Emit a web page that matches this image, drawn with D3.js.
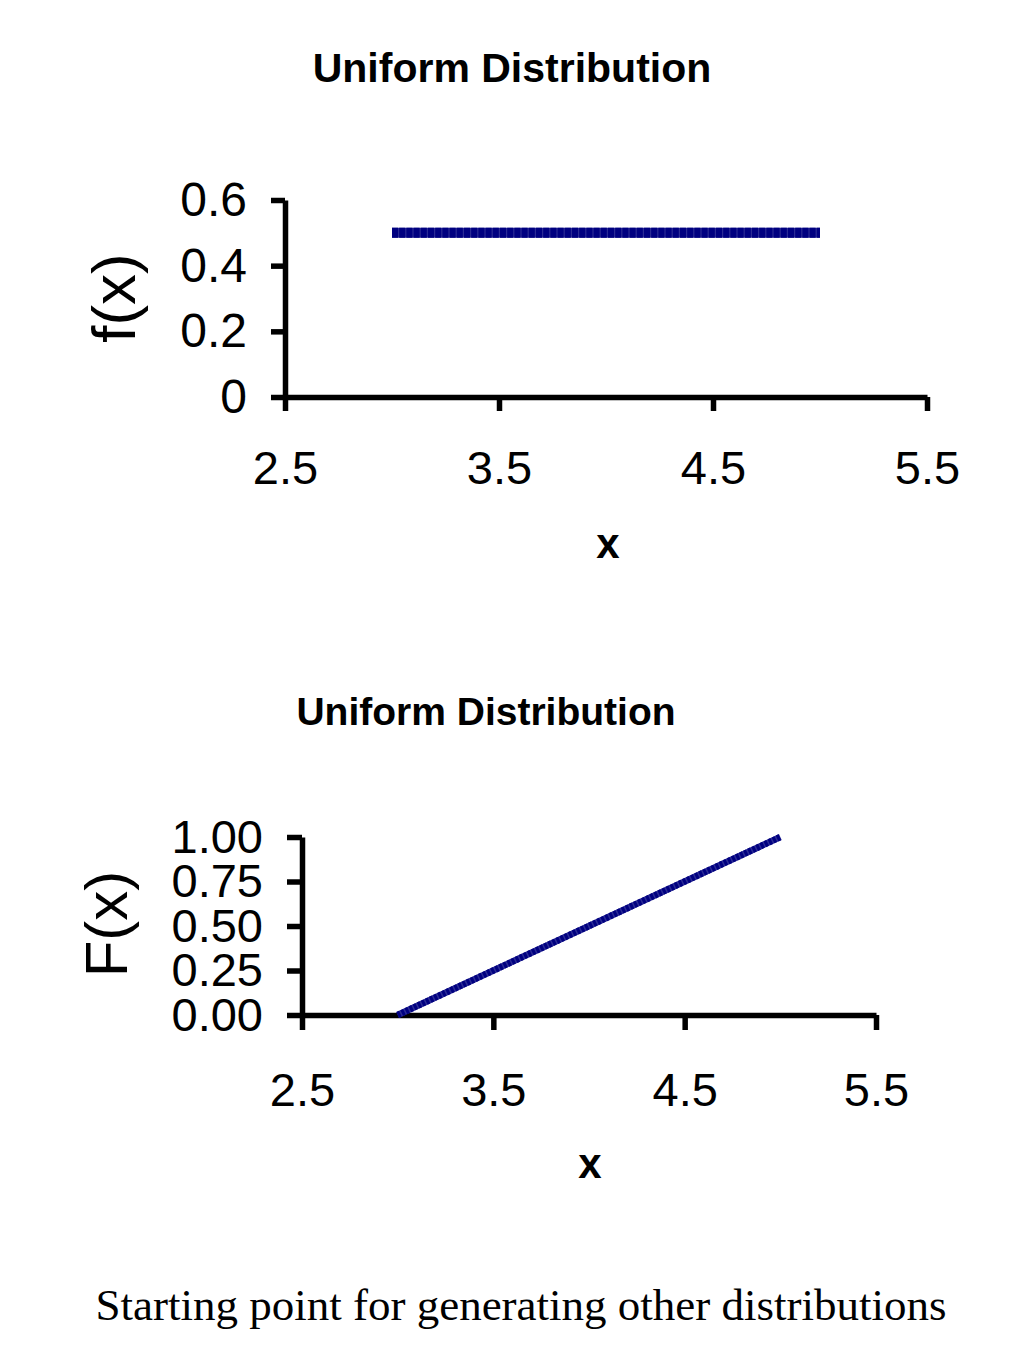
<!DOCTYPE html>
<html>
<head>
<meta charset="utf-8">
<script src="https://cdn.jsdelivr.net/npm/d3@7"></script>
<style>
  body { margin: 0; background: #fff; }
  svg { display: block; }
</style>
</head>
<body>
<div id="chart"></div>
<script>
// values
const xTicks = [2.5, 3.5, 4.5, 5.5];
const xTickLabels = ["2.5", "3.5", "4.5", "5.5"];

const pdfX = [3, 3.5, 4, 4.5, 5];
const pdfY = [0.5, 0.5, 0.5, 0.5, 0.5];
const pdfYTicks = [0, 0.2, 0.4, 0.6];
const pdfYTickLabels = ["0", "0.2", "0.4", "0.6"];

const cdfX = [3, 3.5, 4, 4.5, 5];
const cdfY = [0, 0.25, 0.5, 0.75, 1];
const cdfYTicks = [0, 0.25, 0.5, 0.75, 1];
const cdfYTickLabels = ["0.00", "0.25", "0.50", "0.75", "1.00"];

const svg = d3.select("#chart")
  .append("svg")
  .attr("width", 1024)
  .attr("height", 1365);

const sans = "'Liberation Sans', Arial, sans-serif";

function drawPanel(opt) {
  const x = d3.scaleLinear().domain([2.5, 5.5]).range([opt.left, opt.right]);
  const y = d3.scaleLinear().domain(opt.yDomain).range([opt.bottom, opt.top]);

  // title
  svg.append("text")
    .attr("x", opt.titleX)
    .attr("y", opt.titleY)
    .attr("text-anchor", "middle")
    .style("font-family", sans)
    .style("font-weight", "bold")
    .style("font-size", opt.titleSize + "px")
    .text("Uniform Distribution");

  const xAxis = svg.append("g")
    .attr("transform", `translate(0,${opt.bottom})`)
    .call(d3.axisBottom(x)
      .tickValues(xTicks)
      .tickFormat((d, i) => xTickLabels[i])
      .tickSize(opt.tick)
      .tickSizeOuter(0)
      .tickPadding(opt.xPad));

  const yAxis = svg.append("g")
    .attr("transform", `translate(${opt.left},0)`)
    .call(d3.axisLeft(y)
      .tickValues(opt.yTicks)
      .tickFormat((d, i) => opt.yLabels[i])
      .tickSize(opt.tick)
      .tickSizeOuter(0)
      .tickPadding(opt.yPad));

  [xAxis, yAxis].forEach(g => {
    g.selectAll("path, line")
      .attr("stroke", "#000")
      .attr("stroke-width", 5.5);
    g.selectAll("text")
      .attr("fill", "#000")
      .style("font-family", sans)
      .style("font-size", "47px");
  });
  yAxis.selectAll("text").style("font-size", opt.yTickSize + "px");

  // series line
  const line = d3.line()
    .x(d => x(d[0]))
    .y(d => y(d[1]));

  const pts = opt.xs.map((v, i) => [v, opt.ys[i]]);

  svg.append("path")
    .datum(pts)
    .attr("fill", "none")
    .attr("stroke", "#2b2b95")
    .attr("stroke-width", opt.lineW)
    .attr("d", line);

  svg.append("path")
    .datum(pts)
    .attr("fill", "none")
    .attr("stroke", "#000080")
    .attr("stroke-width", opt.lineW)
    .attr("stroke-dasharray", opt.dash)
    .attr("d", line);

  // axis titles
  svg.append("text")
    .attr("x", opt.xLabelX)
    .attr("y", opt.xLabelY)
    .attr("text-anchor", "middle")
    .style("font-family", sans)
    .style("font-weight", "bold")
    .style("font-size", "42px")
    .text("x");

  svg.append("text")
    .attr("transform", `translate(${opt.yLabelX},${opt.yLabelY}) rotate(-90)`)
    .attr("text-anchor", "middle")
    .style("font-family", sans)
    .style("font-size", opt.yLabelSize + "px")
    .text(opt.yLabel);
}

drawPanel({
  left: 285, right: 927, top: 200, bottom: 397,
  yDomain: [0, 0.6], yTicks: pdfYTicks, yLabels: pdfYTickLabels,
  xs: pdfX, ys: pdfY,
  tick: 14, xPad: 40, yPad: 24, yTickSize: 48,
  lineW: 10, dash: "6 1.2",
  titleX: 512, titleY: 82, titleSize: 41,
  xLabelX: 608, xLabelY: 558,
  yLabelX: 135, yLabelY: 298, yLabelSize: 62, yLabel: "f(x)"
});

drawPanel({
  left: 302, right: 876, top: 837, bottom: 1015,
  yDomain: [0, 1], yTicks: cdfYTicks, yLabels: cdfYTickLabels,
  xs: cdfX, ys: cdfY,
  tick: 15, xPad: 43, yPad: 24, yTickSize: 47,
  lineW: 6.5, dash: "3 1.5",
  titleX: 486, titleY: 725, titleSize: 39,
  xLabelX: 590, xLabelY: 1178,
  yLabelX: 127, yLabelY: 924, yLabelSize: 60, yLabel: "F(x)"
});

// caption
svg.append("text")
  .attr("x", 521)
  .attr("y", 1320)
  .attr("text-anchor", "middle")
  .style("font-family", "'Liberation Serif', 'Times New Roman', serif")
  .style("font-size", "45px")
  .text("Starting point for generating other distributions");
</script>
</body>
</html>
